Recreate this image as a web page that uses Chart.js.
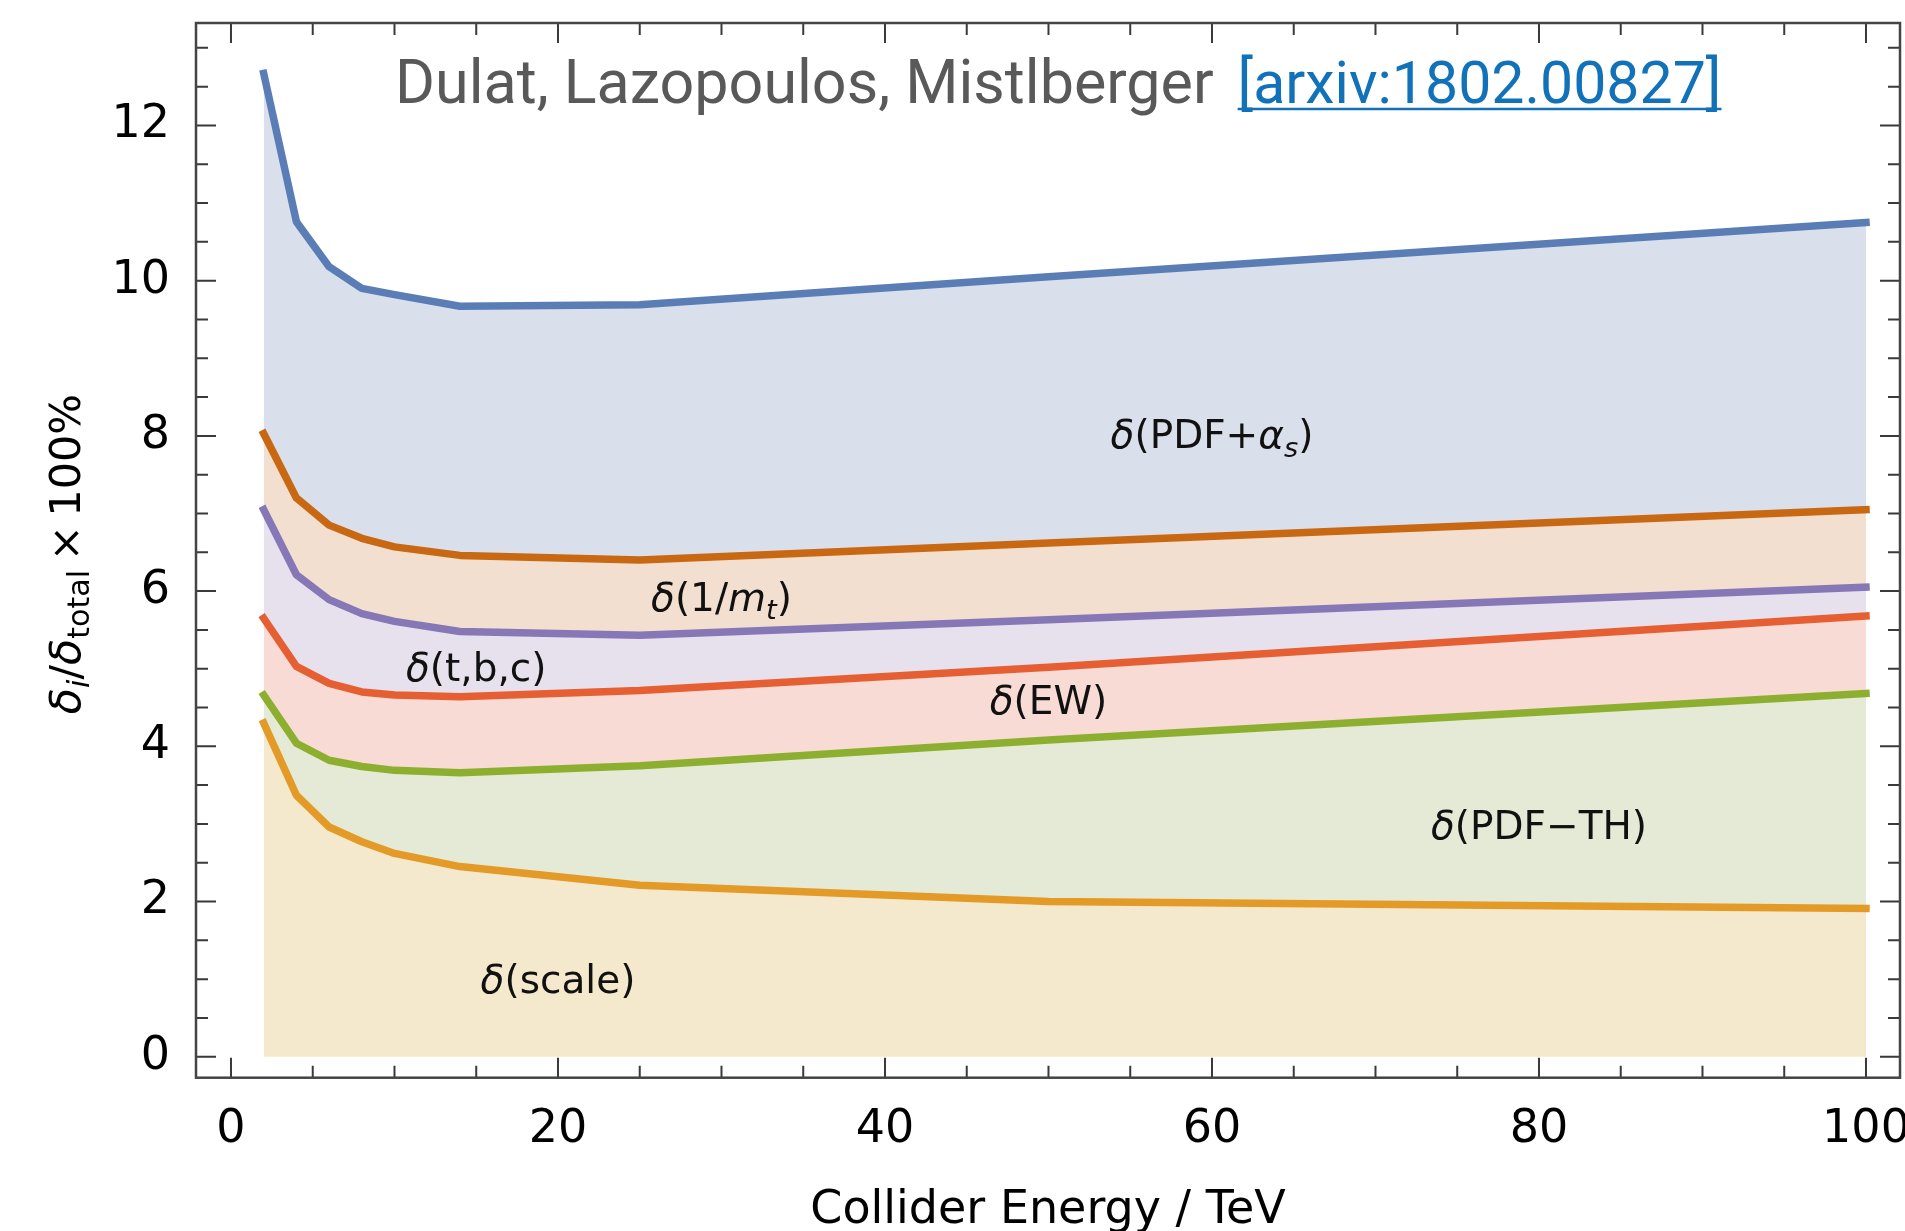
<!DOCTYPE html>
<html>
<head>
<meta charset="utf-8">
<script src="https://cdn.jsdelivr.net/npm/chart.js@4.4.1/dist/chart.umd.min.js"></script>
<style>
  html, body { margin: 0; padding: 0; background: #fff; overflow: hidden; }
  #wrap { width: 1905px; height: 1231px; position: relative; }
</style>
</head>
<body>
<div id="wrap"><canvas id="c" width="1905" height="1231"></canvas></div>
<script>
// Collider energies (TeV) at which the uncertainty budget is evaluated
const energies = [2, 4, 6, 8, 10, 14, 25, 50, 100];

// Upper edge of each stacked band, δ_i/δ_total × 100 %
const topScale  = [4.30, 3.37, 2.96, 2.77, 2.62, 2.45, 2.21, 2.00, 1.91];
const topPdfTh  = [4.66, 4.04, 3.82, 3.74, 3.69, 3.66, 3.75, 4.08, 4.68];
const topEW     = [5.65, 5.03, 4.81, 4.70, 4.66, 4.64, 4.72, 5.02, 5.68];
const topTbc    = [7.05, 6.21, 5.89, 5.71, 5.61, 5.48, 5.43, 5.63, 6.05];
const topInvMt  = [8.03, 7.20, 6.85, 6.68, 6.57, 6.46, 6.40, 6.62, 7.05];
const topPdfAs  = [12.67, 10.76, 10.18, 9.90, 9.82, 9.67, 9.69, 10.05, 10.75];

// Tick labels
const xTickLabels = [0, 20, 40, 60, 80, 100];
const yTickLabels = [0, 2, 4, 6, 8, 10, 12];

// Band annotations: text pieces and their anchor in data coordinates
const bandLabels = [
  { parts: [['δ', 'it'], ['(PDF+'], ['α', 'it'], ['s', 'it', 'sub'], [')']], x: 60, y: 7.98 },
  { parts: [['δ', 'it'], ['(1/'], ['m', 'it'], ['t', 'it', 'sub'], [')']], x: 30, y: 5.89 },
  { parts: [['δ', 'it'], ['(t,b,c)']], x: 15, y: 4.98 },
  { parts: [['δ', 'it'], ['(EW)']], x: 50, y: 4.56 },
  { parts: [['δ', 'it'], ['(PDF−TH)']], x: 80, y: 2.95 },
  { parts: [['δ', 'it'], ['(scale)']], x: 20, y: 0.96 }
];

const FONT = '"DejaVu Sans", sans-serif';

function pts(ys) { return energies.map((e, i) => ({ x: e, y: ys[i] })); }

function band(label, ys, line, fillCol, fill) {
  return {
    label, data: pts(ys),
    borderColor: line, backgroundColor: fillCol,
    borderWidth: 7.5, fill,
    pointRadius: 0, tension: 0,
    borderCapStyle: 'square', borderJoinStyle: 'round'
  };
}

const datasets = [
  band('δ(scale)',   topScale, '#e39a27', '#f5e9cd', 'origin'),
  band('δ(PDF-TH)',  topPdfTh, '#8daf30', '#e4ead6', '-1'),
  band('δ(EW)',      topEW,    '#e55f33', '#f9dbd6', '-1'),
  band('δ(t,b,c)',   topTbc,   '#8677b7', '#e6e1ec', '-1'),
  band('δ(1/mt)',    topInvMt, '#c86812', '#f2dfcf', '-1'),
  band('δ(PDF+αs)',  topPdfAs, '#5b7db6', '#d9e0ec', '-1')
];

// Mixed-style text run: [text, 'it'?, 'sub'?]
function richWidth(ctx, parts, size) {
  let w = 0;
  for (const p of parts) {
    const it = p.includes('it'), sub = p.includes('sub');
    ctx.font = (it ? 'italic ' : '') + (sub ? size * 0.7 : size) + 'px ' + FONT;
    w += ctx.measureText(p[0]).width;
  }
  return w;
}
function drawRich(ctx, parts, x, baseline, size) {
  let cx = x;
  for (const p of parts) {
    const it = p.includes('it'), sub = p.includes('sub');
    ctx.font = (it ? 'italic ' : '') + (sub ? size * 0.7 : size) + 'px ' + FONT;
    ctx.fillText(p[0], cx, baseline + (sub ? size * 0.22 : 0));
    cx += ctx.measureText(p[0]).width;
  }
}

const framePlugin = {
  id: 'frameAndText',
  afterDatasetsDraw(chart) {
    const { ctx, chartArea: a, scales } = chart;
    const xs = scales.x, ys = scales.y;
    ctx.save();

    // band annotations
    ctx.fillStyle = '#111';
    ctx.textBaseline = 'alphabetic';
    ctx.textAlign = 'left';
    const ls = 39;
    for (const L of bandLabels) {
      const w = richWidth(ctx, L.parts, ls);
      const px = xs.getPixelForValue(L.x), py = ys.getPixelForValue(L.y);
      drawRich(ctx, L.parts, px - w / 2, py + ls * 0.28, ls);
    }

    // inward tick marks on all four sides
    ctx.strokeStyle = '#3a3a3a';
    ctx.lineWidth = 2;
    ctx.beginPath();
    for (let v = 0; v <= 100; v += 5) {
      const px = xs.getPixelForValue(v);
      const len = (v % 20 === 0) ? 20 : 12;
      ctx.moveTo(px, a.bottom); ctx.lineTo(px, a.bottom - len);
      ctx.moveTo(px, a.top); ctx.lineTo(px, a.top + len);
    }
    for (let v = 0; v <= 13; v += 0.5) {
      const py = ys.getPixelForValue(v);
      const len = (v % 2 === 0) ? 20 : 12;
      ctx.moveTo(a.left, py); ctx.lineTo(a.left + len, py);
      ctx.moveTo(a.right, py); ctx.lineTo(a.right - len, py);
    }
    ctx.stroke();

    // frame
    ctx.strokeStyle = '#444';
    ctx.lineWidth = 2.5;
    ctx.strokeRect(a.left, a.top, a.right - a.left, a.bottom - a.top);

    // x-axis title
    ctx.fillStyle = '#000';
    ctx.font = '46px ' + FONT;
    ctx.textAlign = 'center';
    ctx.fillText('Collider Energy / TeV', (a.left + a.right) / 2, 1223);

    // y-axis title (rotated)
    const ts = 43;
    const yParts = [['δ', 'it'], ['i', 'it', 'sub'], ['/'], ['δ', 'it'], ['total', 'sub'], ['\u2009×\u2009'], ['100%']];
    ctx.save();
    ctx.translate(80, 554);
    ctx.rotate(-Math.PI / 2);
    ctx.textAlign = 'left';
    const yw = richWidth(ctx, yParts, ts);
    drawRich(ctx, yParts, -yw / 2, 0, ts);
    ctx.restore();

    // citation line
    ctx.textAlign = 'left';
    ctx.font = '61px Roboto, sans-serif';
    const authors = 'Dulat, Lazopoulos, Mistlberger';
    const ref = '[arxiv:1802.00827]';
    const x0 = 395, base = 103;
    ctx.fillStyle = '#595959';
    ctx.fillText(authors, x0, base);
    const rx = x0 + ctx.measureText(authors).width + 24;
    ctx.font = '59px Roboto, sans-serif';
    ctx.fillStyle = '#1172b9';
    ctx.fillText(ref, rx, base);
    const rw = ctx.measureText(ref).width;
    ctx.strokeStyle = '#1172b9';
    ctx.lineWidth = 2.5;
    ctx.beginPath();
    ctx.moveTo(rx, base + 6); ctx.lineTo(rx + rw, base + 6);
    ctx.stroke();

    ctx.restore();
  }
};

new Chart(document.getElementById('c').getContext('2d'), {
  type: 'line',
  data: { datasets },
  options: {
    responsive: false,
    animation: false,
    layout: { padding: { top: 23, right: 5, left: 0, bottom: 0 } },
    plugins: { legend: { display: false }, tooltip: { enabled: false }, title: { display: false } },
    scales: {
      x: {
        type: 'linear', min: -2.14, max: 102.08,
        border: { display: false }, grid: { display: false },
        afterBuildTicks(s) { s.ticks = xTickLabels.map(v => ({ value: v })); },
        ticks: { color: '#000', font: { family: FONT, size: 46 }, padding: 17, maxRotation: 0, autoSkip: false },
        afterFit(s) { s.height = 1231 - 1077.7; s.paddingLeft = 0; s.paddingRight = 0; }
      },
      y: {
        type: 'linear', min: -0.27, max: 13.32,
        border: { display: false }, grid: { display: false },
        afterBuildTicks(s) { s.ticks = yTickLabels.map(v => ({ value: v })); },
        ticks: { color: '#000', font: { family: FONT, size: 46 }, padding: 18, autoSkip: false },
        afterFit(s) { s.width = 196; s.paddingTop = 0; s.paddingBottom = 0; }
      }
    }
  },
  plugins: [framePlugin]
});
</script>
</body>
</html>
